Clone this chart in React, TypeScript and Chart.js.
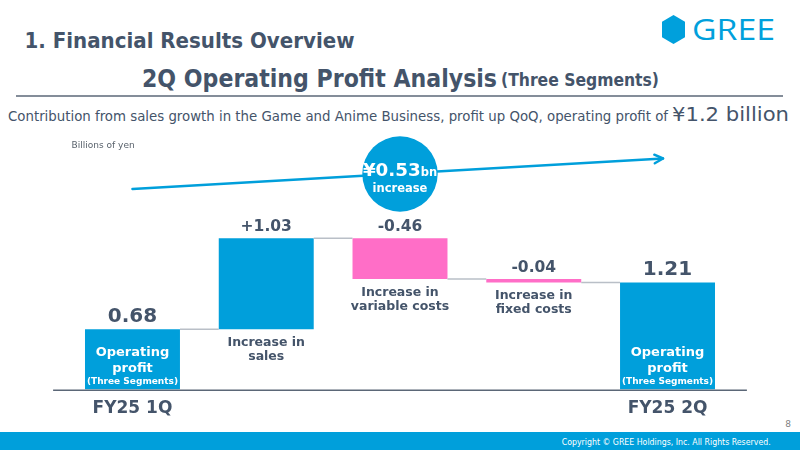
import { useEffect, useRef } from "react";
import { Chart, registerables } from "chart.js";

Chart.register(...registerables);

// Waterfall steps, in billions of yen
const categories = [
  "FY25 1Q",
  "Increase in sales",
  "Increase in variable costs",
  "Increase in fixed costs",
  "FY25 2Q",
];
const categoryLines = [
  ["FY25 1Q"],
  ["Increase in", "sales"],
  ["Increase in", "variable costs"],
  ["Increase in", "fixed costs"],
  ["FY25 2Q"],
];
const changes = [0.68, 1.03, -0.46, -0.04, 1.21];
const isTotal = [true, false, false, false, true];
const valueLabels = ["0.68", "+1.03", "-0.46", "-0.04", "1.21"];
const totalInnerLines = ["Operating", "profit", "(Three Segments)"];
const increaseAmount = "¥0.53";
const increaseUnit = "bn";
const increaseWord = "increase";
const unitLabel = "Billions of yen";

const INK = "#44546A";
const BLUE = "#009FDB";
const PINK = "#FF6EC7";
const CONNECTOR = "#B9BFC7";
const FONT = "'DejaVu Sans', Verdana, sans-serif";

// Floating [start, end] ranges from the running total
function buildRanges(): [number, number][] {
  let running = 0;
  return changes.map((v, i) => {
    if (isTotal[i]) {
      running = v;
      return [0, v] as [number, number];
    }
    const start = running;
    running = Math.round((running + v) * 100) / 100;
    return [start, running] as [number, number];
  });
}

function centeredText(ctx: CanvasRenderingContext2D, text: string, x: number, baseline: number, font: string, color: string) {
  ctx.font = font;
  ctx.fillStyle = color;
  ctx.textAlign = "center";
  ctx.textBaseline = "alphabetic";
  ctx.fillText(text, x, baseline);
}

const waterfallDecor = {
  id: "waterfallDecor",
  afterDatasetsDraw(chart: any) {
    const { ctx, chartArea, scales } = chart;
    const yScale = scales.y;
    const ranges = chart.data.datasets[0].data as [number, number][];
    const bars = chart.getDatasetMeta(0).data as any[];
    const zero = yScale.getPixelForValue(0);

    ctx.save();

    // baseline axis
    ctx.strokeStyle = "#5B6777";
    ctx.lineWidth = 1.5;
    ctx.beginPath();
    ctx.moveTo(chartArea.left - 12.5, zero + 0.75);
    ctx.lineTo(chartArea.right + 12.5, zero + 0.75);
    ctx.stroke();

    // connectors between consecutive steps
    ctx.strokeStyle = CONNECTOR;
    ctx.lineWidth = 1.5;
    for (let i = 0; i < bars.length - 1; i++) {
      const level = yScale.getPixelForValue(ranges[i][1]);
      ctx.beginPath();
      ctx.moveTo(bars[i].x + bars[i].width / 2, level);
      ctx.lineTo(bars[i + 1].x - bars[i + 1].width / 2, level);
      ctx.stroke();
    }

    bars.forEach((bar, i) => {
      const [a, b] = ranges[i];
      const topPx = yScale.getPixelForValue(Math.max(a, b));
      const bottomPx = yScale.getPixelForValue(Math.min(a, b));
      if (isTotal[i]) {
        centeredText(ctx, valueLabels[i], bar.x, topPx - 7.7, `bold 20px ${FONT}`, INK);
        centeredText(ctx, totalInnerLines[0], bar.x, zero - 33.5, `bold 13px ${FONT}`, "#FFFFFF");
        centeredText(ctx, totalInnerLines[1], bar.x, zero - 18, `bold 13px ${FONT}`, "#FFFFFF");
        centeredText(ctx, totalInnerLines[2], bar.x, zero - 5.5, `bold 9px ${FONT}`, "#FFFFFF");
        centeredText(ctx, categoryLines[i][0], bar.x, zero + 23, `bold 17px ${FONT}`, INK);
      } else {
        centeredText(ctx, valueLabels[i], bar.x, topPx - 6.8, `bold 15.5px ${FONT}`, INK);
        categoryLines[i].forEach((line, k) => {
          centeredText(ctx, line, bar.x, bottomPx + 16.8 + k * 14, `bold 12.5px ${FONT}`, INK);
        });
      }
    });

    // unit note
    ctx.font = `9px ${FONT}`;
    ctx.fillStyle = "#59626C";
    ctx.textAlign = "left";
    ctx.fillText(unitLabel, chartArea.left + 6, chartArea.top + 24.3);

    // growth arrow from first to last total
    const first = bars[0];
    const last = bars[bars.length - 1];
    const x0 = first.x;
    const y0 = chartArea.top + 65;
    const x1 = last.x - 4.5;
    const y1 = chartArea.top + 34.5;
    ctx.strokeStyle = BLUE;
    ctx.lineWidth = 2.5;
    ctx.lineCap = "round";
    ctx.beginPath();
    ctx.moveTo(x0, y0);
    ctx.lineTo(x1, y1);
    ctx.stroke();
    const ang = Math.atan2(y1 - y0, x1 - x0);
    const arm = 9.5;
    ctx.lineJoin = "round";
    ctx.beginPath();
    ctx.moveTo(x1 - arm * Math.cos(ang - 0.47), y1 - arm * Math.sin(ang - 0.47));
    ctx.lineTo(x1, y1);
    ctx.lineTo(x1 - arm * Math.cos(ang + 0.47), y1 - arm * Math.sin(ang + 0.47));
    ctx.stroke();

    // increase badge
    const cx = bars[2].x;
    const cy = chartArea.top + 50;
    ctx.fillStyle = BLUE;
    ctx.beginPath();
    ctx.arc(cx, cy, 37.7, 0, Math.PI * 2);
    ctx.fill();

    ctx.font = `bold 18.3px ${FONT}`;
    const wMain = ctx.measureText(increaseAmount).width;
    ctx.font = `bold 11.5px ${FONT}`;
    const wUnit = ctx.measureText(increaseUnit).width;
    const startX = cx - (wMain + wUnit) / 2;
    ctx.fillStyle = "#FFFFFF";
    ctx.textAlign = "left";
    ctx.font = `bold 18.3px ${FONT}`;
    ctx.fillText(increaseAmount, startX, cy + 1.7);
    ctx.font = `bold 11.5px ${FONT}`;
    ctx.fillText(increaseUnit, startX + wMain, cy + 1.7);
    centeredText(ctx, increaseWord, cx, cy + 17.7, `bold 11.5px ${FONT}`, "#FFFFFF");

    ctx.restore();
  },
};

function WaterfallChart() {
  const canvasRef = useRef<HTMLCanvasElement | null>(null);

  useEffect(() => {
    const canvas = canvasRef.current;
    if (!canvas) return;
    const ranges = buildRanges();
    const colors = changes.map((v, i) => (isTotal[i] || v > 0 ? BLUE : PINK));
    const chart = new Chart(canvas, {
      type: "bar",
      data: {
        labels: categories,
        datasets: [
          {
            data: ranges as any,
            backgroundColor: colors,
            borderWidth: 0,
            borderSkipped: false,
            barPercentage: 0.71,
            categoryPercentage: 1,
          },
        ],
      },
      options: {
        responsive: false,
        animation: false,
        layout: { padding: { left: 65.6, right: 65.6, top: 124, bottom: 60.5 } },
        scales: {
          x: { display: false },
          y: { display: false, min: 0, max: 3 },
        },
        plugins: {
          legend: { display: false },
          tooltip: { enabled: false },
        },
      },
      plugins: [waterfallDecor],
    });
    return () => chart.destroy();
  }, []);

  return (
    <canvas
      ref={canvasRef}
      width={800}
      height={450}
      style={{ position: "absolute", left: 0, top: 0, width: 800, height: 450 }}
    />
  );
}

const condensed = "'DejaVu Sans Condensed', 'DejaVu Sans', sans-serif";

export default function App() {
  return (
    <div
      style={{
        position: "fixed",
        left: 0,
        top: 0,
        width: 800,
        height: 450,
        background: "#FFFFFF",
        overflow: "hidden",
      }}
    >
      <svg width={800} height={450} style={{ position: "absolute", left: 0, top: 0 }}>
        <text x={24.5} y={48} fontFamily={condensed} fontWeight="bold" fontSize={22} fill={INK}
          textLength={330} lengthAdjust="spacingAndGlyphs">
          1. Financial Results Overview
        </text>

        {/* logo */}
        <polygon points="673.5,15 685,21.8 685,37.2 673.5,44 662,37.2 662,21.8" fill="#00A0DC" />
        <text x={692} y={40} fontFamily="'Open Sans', sans-serif" fontSize={30} fill="#00A0DC"
          textLength={83} lengthAdjust="spacingAndGlyphs">
          GREE
        </text>

        <text x={142} y={87} fontFamily={condensed} fontWeight="bold" fontSize={24.5} fill={INK}
          textLength={355} lengthAdjust="spacingAndGlyphs">
          2Q Operating Profit Analysis
        </text>
        <text x={501} y={86} fontFamily={condensed} fontWeight="bold" fontSize={17} fill={INK}
          textLength={158} lengthAdjust="spacingAndGlyphs">
          (Three Segments)
        </text>
        <line x1={16} y1={96} x2={783} y2={96} stroke="#5B6777" strokeWidth={1.5} />

        <text x={8} y={120.5} fontFamily={condensed} fontSize={14} fill={INK}
          textLength={660} lengthAdjust="spacingAndGlyphs">
          Contribution from sales growth in the Game and Anime Business, profit up QoQ, operating profit of
        </text>
        <text x={672} y={120.5} fontFamily="'DejaVu Sans', sans-serif" fontSize={19.5} fill={INK}
          textLength={117} lengthAdjust="spacingAndGlyphs">
          ¥1.2 billion
        </text>

        {/* footer */}
        <text x={791} y={427.3} textAnchor="end" fontFamily="'DejaVu Sans', sans-serif" fontSize={9} fill="#7F7F7F">
          8
        </text>
        <rect x={0} y={432} width={800} height={18} fill={BLUE} />
        <text x={561.7} y={444.7} fontFamily={condensed} fontSize={8.7} fill="#FFFFFF"
          textLength={209} lengthAdjust="spacingAndGlyphs">
          Copyright © GREE Holdings, Inc. All Rights Reserved.
        </text>
      </svg>
      <WaterfallChart />
    </div>
  );
}
